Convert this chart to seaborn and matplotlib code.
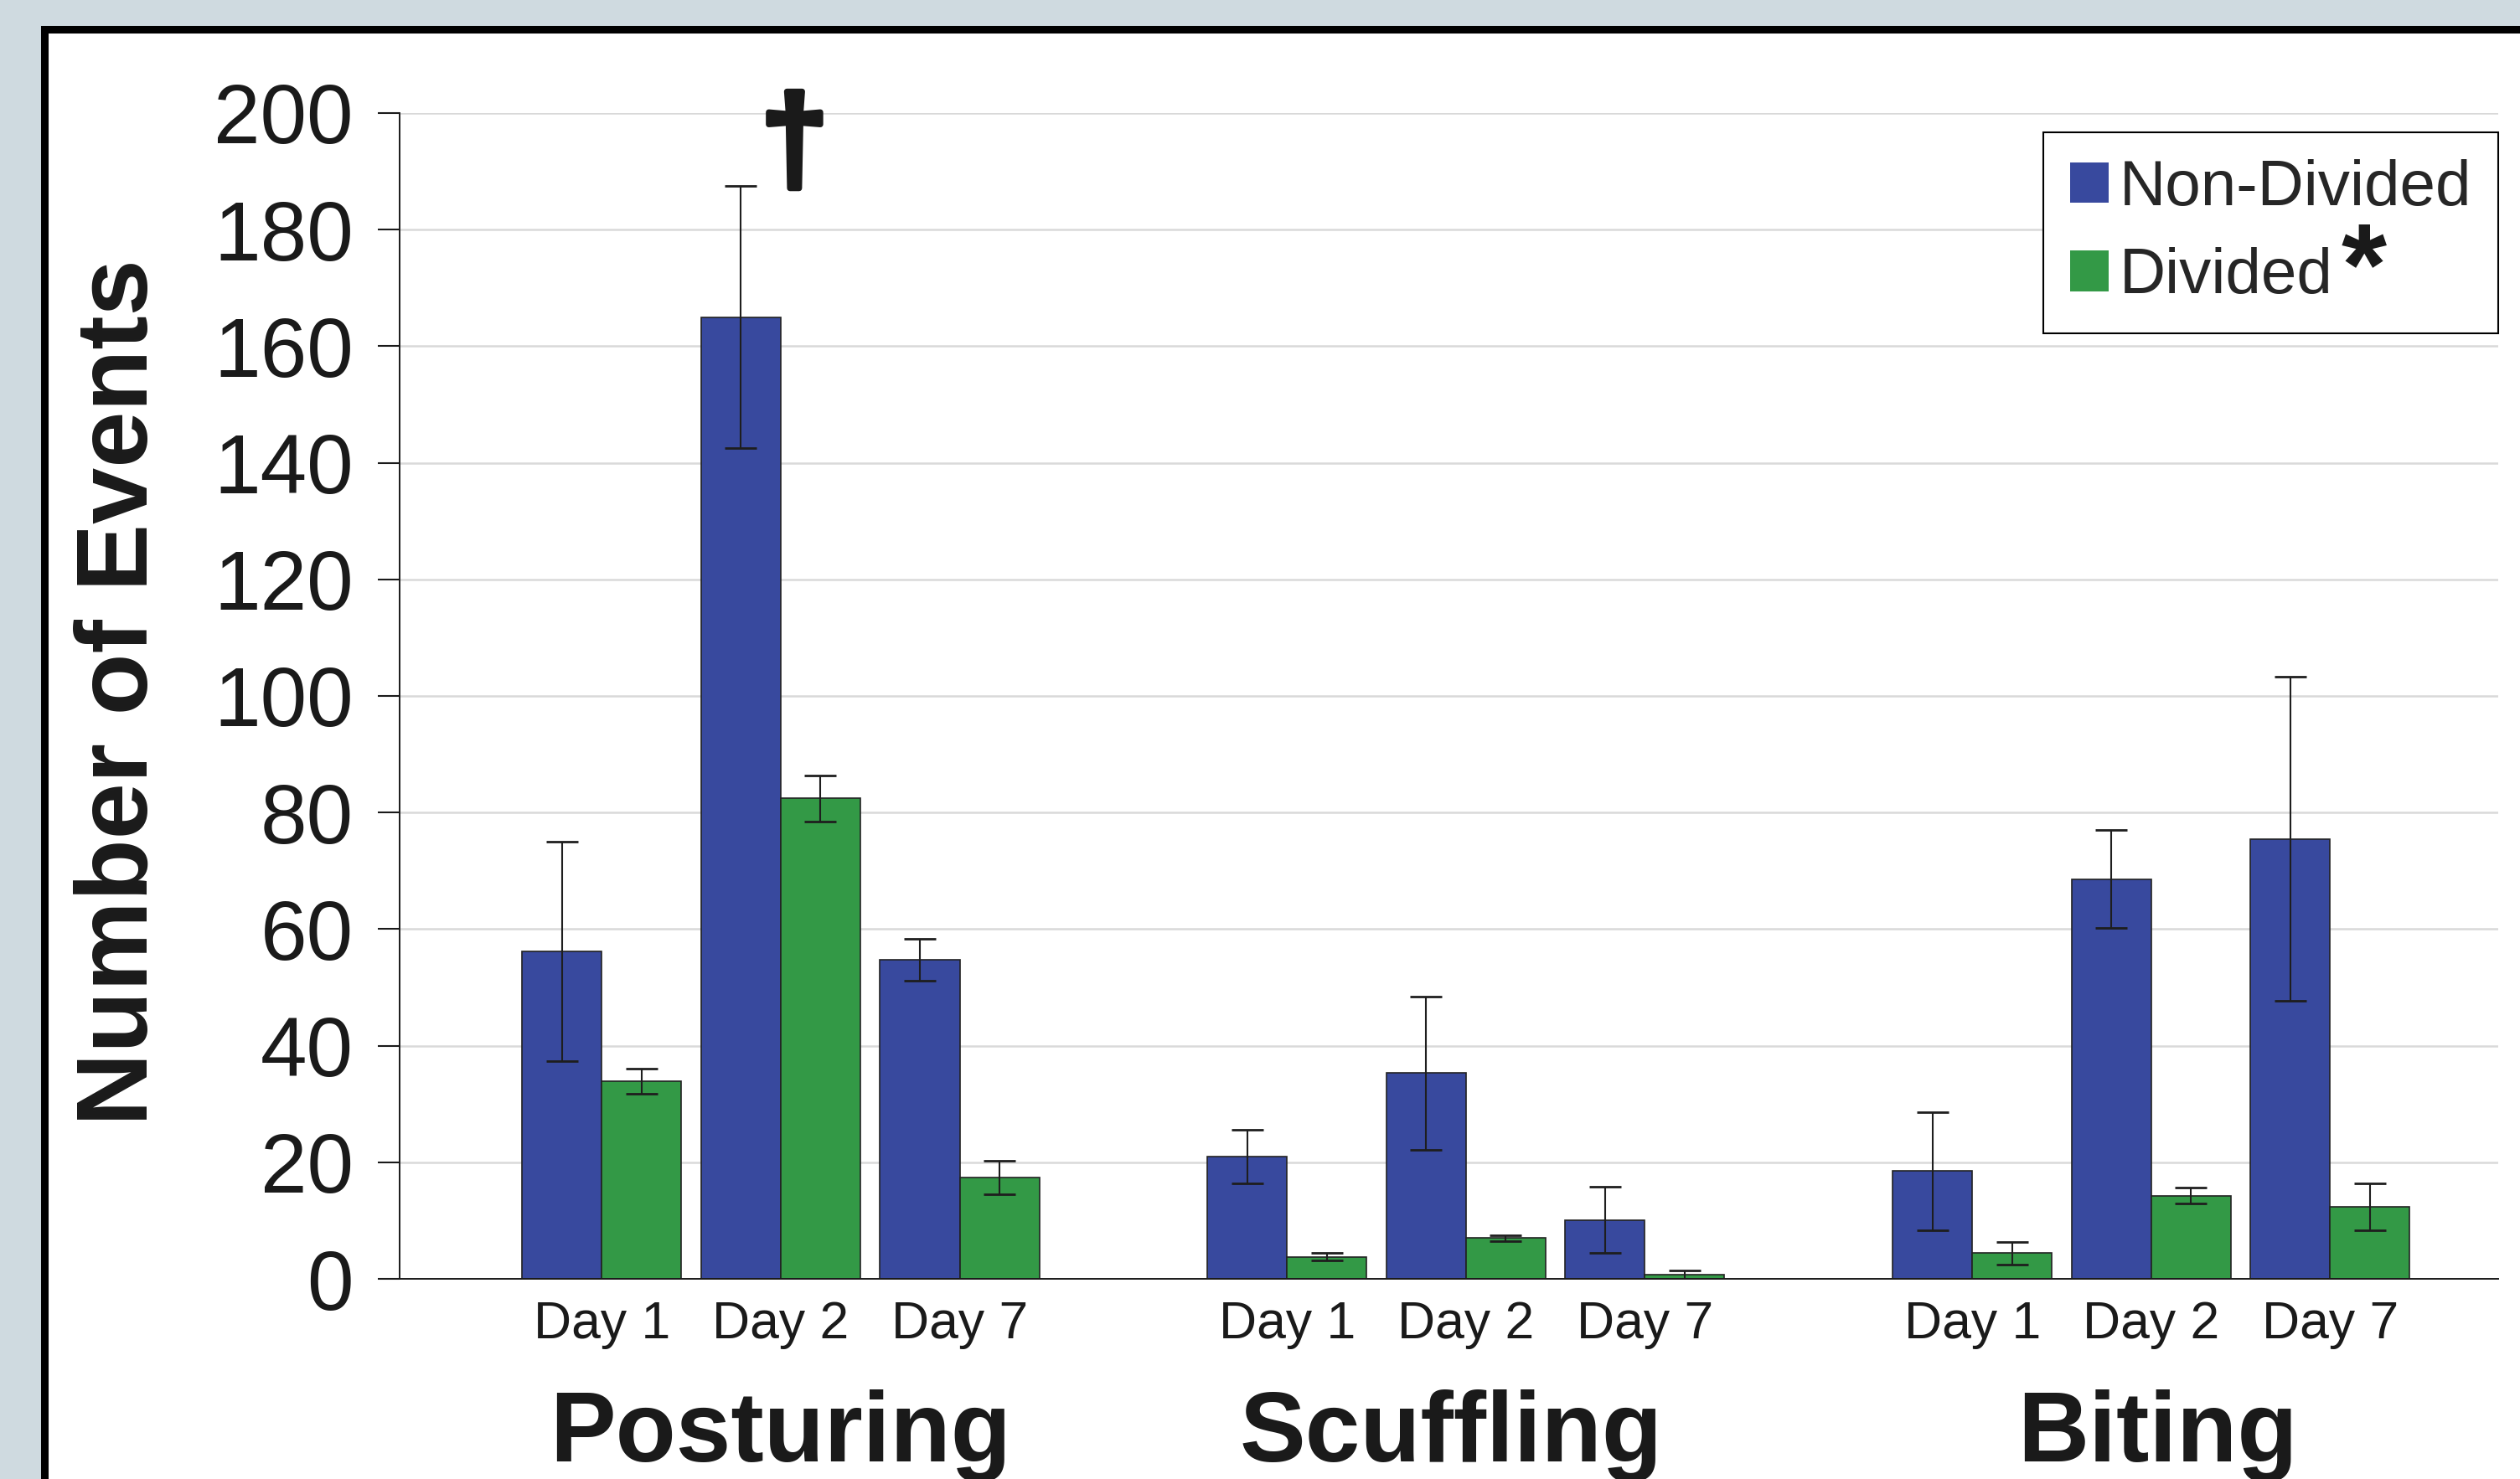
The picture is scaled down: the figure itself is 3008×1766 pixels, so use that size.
import matplotlib
matplotlib.use('Agg')
import matplotlib.pyplot as plt
import matplotlib.patheffects as pe
from matplotlib.patches import Rectangle, Patch
import pandas as pd
import numpy as np
import seaborn as sns

# data (mean number of events and error bar half-size)
behaviors = ['Posturing', 'Scuffling', 'Biting']
days = ['Day 1', 'Day 2', 'Day 7']
groups = ['Non-Divided', 'Divided']

non_divided = [56.2, 165.0, 54.8, 21.0, 35.3, 10.1, 18.5, 68.6, 75.5]
non_divided_se = [18.8, 22.5, 3.6, 4.6, 13.1, 5.7, 10.1, 8.4, 27.8]
divided = [33.9, 82.4, 17.4, 3.8, 7.0, 0.7, 4.4, 14.3, 12.4]
divided_se = [2.2, 3.9, 2.9, 0.65, 0.5, 0.7, 2.0, 1.3, 4.0]

colors = {'Non-Divided': '#38499e', 'Divided': '#339946'}

# x position of every day, with a wider gap between behaviours
group_step = 3.83
pos = [b * group_step + d for b in range(len(behaviors)) for d in range(len(days))]

rows = []
for g, vals in zip(groups, [non_divided, divided]):
    for i, v in enumerate(vals):
        rows.append({'pos': pos[i], 'behavior': behaviors[i // 3],
                     'day': days[i % 3], 'group': g, 'events': v})
df = pd.DataFrame(rows)

sns.set_style('white')
plt.rcParams['font.family'] = ['Liberation Sans', 'DejaVu Sans']

fig = plt.figure(figsize=(30.08, 17.66), dpi=100)
fig.patch.set_facecolor('#cfdae0')
# white panel with thick black frame (behind the axes)
fig.patches.append(Rectangle((0.0176, -0.1), 1.2, 1.0802, transform=fig.transFigure,
                             facecolor='white', edgecolor='black', linewidth=6.5, zorder=-1))

ax = fig.add_axes([0.1586, 0.1353, 0.8328, 0.7883])
ax.set_facecolor('white')

sns.barplot(data=df, x='pos', y='events', hue='group', hue_order=groups,
            palette=colors, saturation=1, native_scale=True, width=0.89, errorbar=None,
            edgecolor='#222222', linewidth=1.2, legend=False, ax=ax)

# error bars on top of the bars
for cont, se in zip(list(ax.containers)[:2], [non_divided_se, divided_se]):
    xs = [b.get_x() + b.get_width() / 2 for b in cont]
    ys = [b.get_height() for b in cont]
    ax.errorbar(xs, ys, yerr=se, fmt='none', ecolor='#1e1e1e',
                elinewidth=1.5, capsize=14, capthick=2.0, zorder=3)

ax.set_ylim(0, 200)
ax.set_xlim(-1.13, 10.6)
ax.set_yticks(range(0, 201, 20))
ax.set_xticks(pos)
ax.set_xticklabels(days * 3)
ax.tick_params(axis='y', labelsize=72, length=18.7, width=1.5, pad=21,
               direction='out', left=True, colors='#1a1a1a')
ax.tick_params(axis='x', labelsize=45, length=0, pad=18, colors='#1a1a1a')
ax.yaxis.grid(True, color='#d9d9d9', linewidth=1.8)
ax.xaxis.grid(False)
ax.set_axisbelow(True)
for s in ['top', 'right']:
    ax.spines[s].set_visible(False)
for s in ['left', 'bottom']:
    ax.spines[s].set_color('#1a1a1a')
    ax.spines[s].set_linewidth(1.4)

ax.set_xlabel('')
ax.set_ylabel('Number of Events', fontsize=87, fontweight='bold', color='#1a1a1a')
ax.yaxis.set_label_coords(-0.133, 0.503)
ax.yaxis.label.set_va('center')

# behaviour names under the day labels (small nudges as in the original)
name_shift = [0.0, -0.085, 0.035]
for b, name in enumerate(behaviors):
    ax.text(pos[b * 3 + 1] + name_shift[b], -0.1566, name, transform=ax.get_xaxis_transform(),
            ha='center', va='baseline', fontsize=85, fontweight='bold', color='#1a1a1a')

handles = [Patch(facecolor=colors[g], edgecolor='none') for g in groups]
leg = ax.legend(handles, groups, loc='upper right', bbox_to_anchor=(1.0, 0.9835),
                borderaxespad=0, fontsize=55, frameon=True, fancybox=False,
                edgecolor='black', framealpha=1, handlelength=0.6, handleheight=0.6,
                handletextpad=0.16, borderpad=0.42, labelspacing=0.45)
leg.get_frame().set_linewidth(1.5)

# significance marks
ax.text(pos[1] + 0.077, 188.5, '\u2020', ha='center', va='baseline',
        fontsize=105, fontweight='bold', color='#1a1a1a',
        path_effects=[pe.withStroke(linewidth=5, foreground='#1a1a1a')])
ax.text(0.936, 0.836, '*', transform=ax.transAxes, ha='center', va='baseline',
        fontsize=100, fontweight='bold', color='#1a1a1a', zorder=10)

fig.savefig('out.png', dpi=100)
